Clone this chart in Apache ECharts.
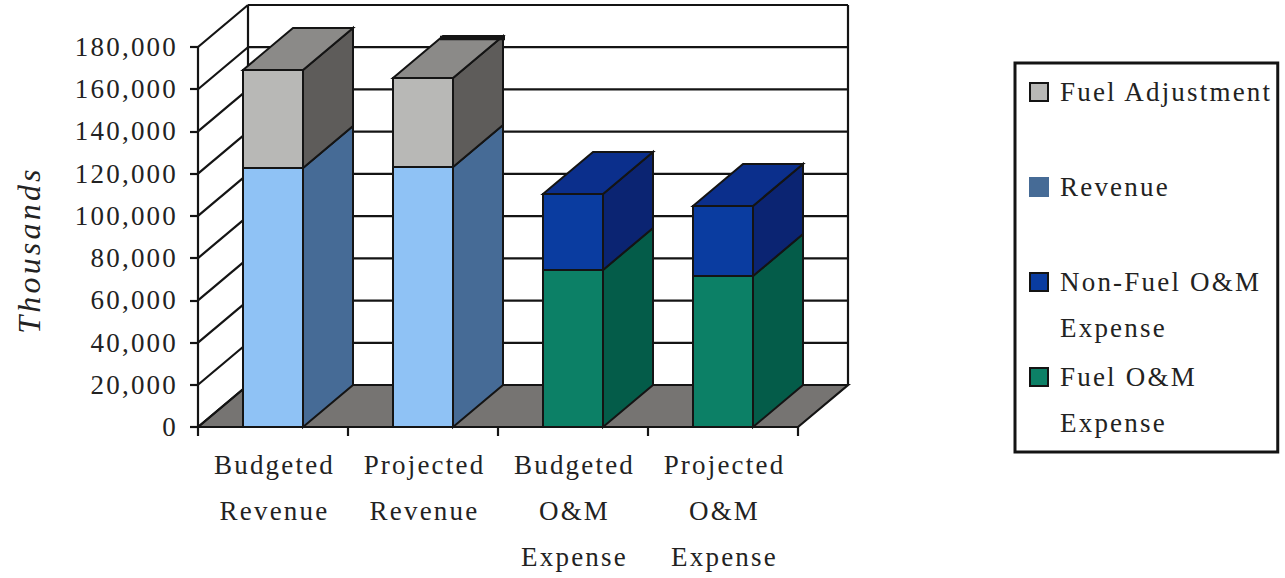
<!DOCTYPE html>
<html>
<head>
<meta charset="utf-8">
<style>
  html, body { margin: 0; background: #fff; }
  #chart { width: 1285px; height: 578px; }
  /* Tracked-out lettering for every label on the chart */
  #chart text { letter-spacing: 2.2px; }
  #chart text[style*="italic"] { letter-spacing: 3.2px; }
</style>
<script src="https://cdn.jsdelivr.net/npm/echarts@6/dist/echarts.min.js"></script>
</head>
<body>
<div id="chart"></div>
<script>
const categories = ['Budgeted\nRevenue', 'Projected\nRevenue', 'Budgeted\nO&M\nExpense', 'Projected\nO&M\nExpense'];
const axisTicks = [0, 20000, 40000, 60000, 80000, 100000, 120000, 140000, 160000, 180000];

const revenue = [122700, 123200, null, null];
const fuelAdjustment = [46400, 42100, null, null];
const fuelOM = [null, null, 74400, 71500];
const nonFuelOM = [null, null, 36000, 33200];

// Oblique projection used for the box depth
const DEPTH_X = 50;
const DEPTH_Y = 42;
const INK = '#141414';
const TEXT = '#222222';
const FONT = '"Liberation Serif", serif';

const faces = {
  'Revenue': { front: '#8fc2f5', side: '#466b96', top: '#466b96' },
  'Fuel Adjustment': { front: '#b8b8b6', side: '#5e5c5a', top: '#8b8a88' },
  'Fuel O&M Expense': { front: '#0c8066', side: '#045c49', top: '#045c49' },
  'Non-Fuel O&M Expense': { front: '#0a3ca0', side: '#0b2472', top: '#0b2f8c' }
};

// Categories whose box has a heavier rear edge on its top face
const heavyRearEdge = [false, true, false, false];

// Bottom and top of each stacked segment, per category
function stackOn(values, below) {
  return values.map((v, i) => {
    if (v == null) return null;
    const base = below ? (below[i] || 0) : 0;
    return [i, base, base + v];
  }).filter(Boolean);
}

const poly = (points, fill, width) => ({
  type: 'polygon',
  shape: { points },
  style: { fill, stroke: INK, lineWidth: width, lineJoin: 'miter' }
});

function renderBox(faceSet, showTop) {
  return function (params, api) {
    const idx = api.value(0);
    const low = api.coord([idx, api.value(1)]);
    const high = api.coord([idx, api.value(2)]);
    const half = api.size([1, 0])[0] * 0.2;
    const l = low[0] - half, r = low[0] + half;
    const children = [
      poly([[r, low[1]], [r + DEPTH_X, low[1] - DEPTH_Y], [r + DEPTH_X, high[1] - DEPTH_Y], [r, high[1]]], faceSet.side, 2)
    ];
    if (showTop) {
      children.push(poly([[l, high[1]], [l + DEPTH_X, high[1] - DEPTH_Y], [r + DEPTH_X, high[1] - DEPTH_Y], [r, high[1]]], faceSet.top, 2));
      if (heavyRearEdge[idx]) {
        const rear = high[1] - DEPTH_Y + 2;
        children.push({
          type: 'line',
          shape: { x1: l + DEPTH_X - 3, y1: rear, x2: r + DEPTH_X + 2, y2: rear },
          style: { stroke: INK, lineWidth: 4.5 }
        });
      }
    }
    children.push(poly([[l, low[1]], [r, low[1]], [r, high[1]], [l, high[1]]], faceSet.front, 2));
    return { type: 'group', children };
  };
}

// Floor, back wall and side wall with the value rules running across them
function renderWalls(params, api) {
  const value = api.value(0);
  const p = api.coord([0, value]);
  const box = params.coordSys;
  const x0 = box.x, x1 = box.x + box.width;
  const y = p[1];
  const line = (x1a, y1a, x2a, y2a) => ({
    type: 'line',
    shape: { x1: x1a, y1: y1a, x2: x2a, y2: y2a },
    style: { stroke: INK, lineWidth: 2.2 }
  });
  const children = [
    line(x0, y, x0 + DEPTH_X, y - DEPTH_Y),
    line(x0 + DEPTH_X, y - DEPTH_Y, x1 + DEPTH_X, y - DEPTH_Y)
  ];
  if (value === 0) {
    children.unshift(poly([[x0, y], [x0 + DEPTH_X, y - DEPTH_Y], [x1 + DEPTH_X, y - DEPTH_Y], [x1, y]], '#767472', 2.2));
    const top = box.y - DEPTH_Y;
    children.push(line(x0 + DEPTH_X, y - DEPTH_Y, x0 + DEPTH_X, top));
    children.push(line(x1 + DEPTH_X, y - DEPTH_Y, x1 + DEPTH_X, top));
  }
  return { type: 'group', children };
}

const boxSeries = (name, data, showTop) => ({
  name,
  type: 'custom',
  z: 3,
  silent: true,
  itemStyle: { color: faces[name].front },
  encode: { x: 0, y: [1, 2] },
  data,
  renderItem: renderBox(faces[name], showTop)
});

// Swatch sits level with the first line of a two-line legend slot
const swatch = 'path://M0 0H18V18H0Z M25 64L25 63.99';
const legendLines = {
  'Fuel Adjustment': 'Fuel Adjustment\n ',
  'Revenue': 'Revenue\n ',
  'Non-Fuel O&M Expense': 'Non-Fuel O&M\nExpense',
  'Fuel O&M Expense': 'Fuel O&M\nExpense'
};
const legendEntry = (name, border) => ({
  name,
  icon: swatch,
  itemStyle: { color: faces[name][name === 'Revenue' ? 'side' : 'front'], borderColor: border, borderWidth: 2 }
});

const chart = echarts.init(document.getElementById('chart'), null, { renderer: 'svg' });
chart.setOption({
  animation: false,
  backgroundColor: '#ffffff',
  grid: { left: 198, top: 47, width: 600, height: 380, outerBoundsMode: 'none' },
  xAxis: {
    type: 'category',
    data: categories,
    axisLine: { lineStyle: { color: INK, width: 2.2 } },
    axisTick: { show: true, length: 9, lineStyle: { color: INK, width: 2.2 } },
    axisLabel: { interval: 0, margin: 15, color: TEXT, fontFamily: FONT, fontSize: 27, lineHeight: 46, padding: [0, 0, 0, 3] }
  },
  yAxis: {
    type: 'value',
    min: 0,
    max: 180000,
    interval: 20000,
    name: 'Thousands',
    nameLocation: 'middle',
    nameRotate: 90,
    nameGap: 153,
    nameTextStyle: { color: TEXT, fontFamily: FONT, fontStyle: 'italic', fontSize: 32, padding: [0, 26, 0, 0] },
    splitLine: { show: false },
    axisLine: { show: true, lineStyle: { color: INK, width: 2.2 } },
    axisTick: { show: true, length: 8, lineStyle: { color: INK, width: 2.2 } },
    axisLabel: {
      margin: 20,
      color: TEXT,
      fontFamily: FONT,
      fontSize: 27,
      formatter: v => v.toLocaleString('en-US')
    }
  },
  legend: {
    left: 1015,
    top: 63,
    orient: 'vertical',
    selectedMode: false,
    padding: [6, 37, 6, 14],
    itemGap: 3,
    itemWidth: 25,
    itemHeight: 64,
    borderColor: INK,
    borderWidth: 3,
    backgroundColor: '#ffffff',
    textStyle: { color: TEXT, fontFamily: FONT, fontSize: 27, lineHeight: 46 },
    formatter: name => legendLines[name],
    data: [
      legendEntry('Fuel Adjustment', INK),
      legendEntry('Revenue', faces['Revenue'].side),
      legendEntry('Non-Fuel O&M Expense', INK),
      legendEntry('Fuel O&M Expense', INK)
    ]
  },
  series: [
    {
      name: 'Walls',
      type: 'custom',
      z: 1,
      silent: true,
      encode: { y: 0 },
      data: axisTicks.map(v => [v]),
      renderItem: renderWalls
    },
    boxSeries('Revenue', stackOn(revenue), false),
    boxSeries('Fuel Adjustment', stackOn(fuelAdjustment, revenue), true),
    boxSeries('Fuel O&M Expense', stackOn(fuelOM), false),
    boxSeries('Non-Fuel O&M Expense', stackOn(nonFuelOM, fuelOM), true)
  ]
});
</script>
</body>
</html>
